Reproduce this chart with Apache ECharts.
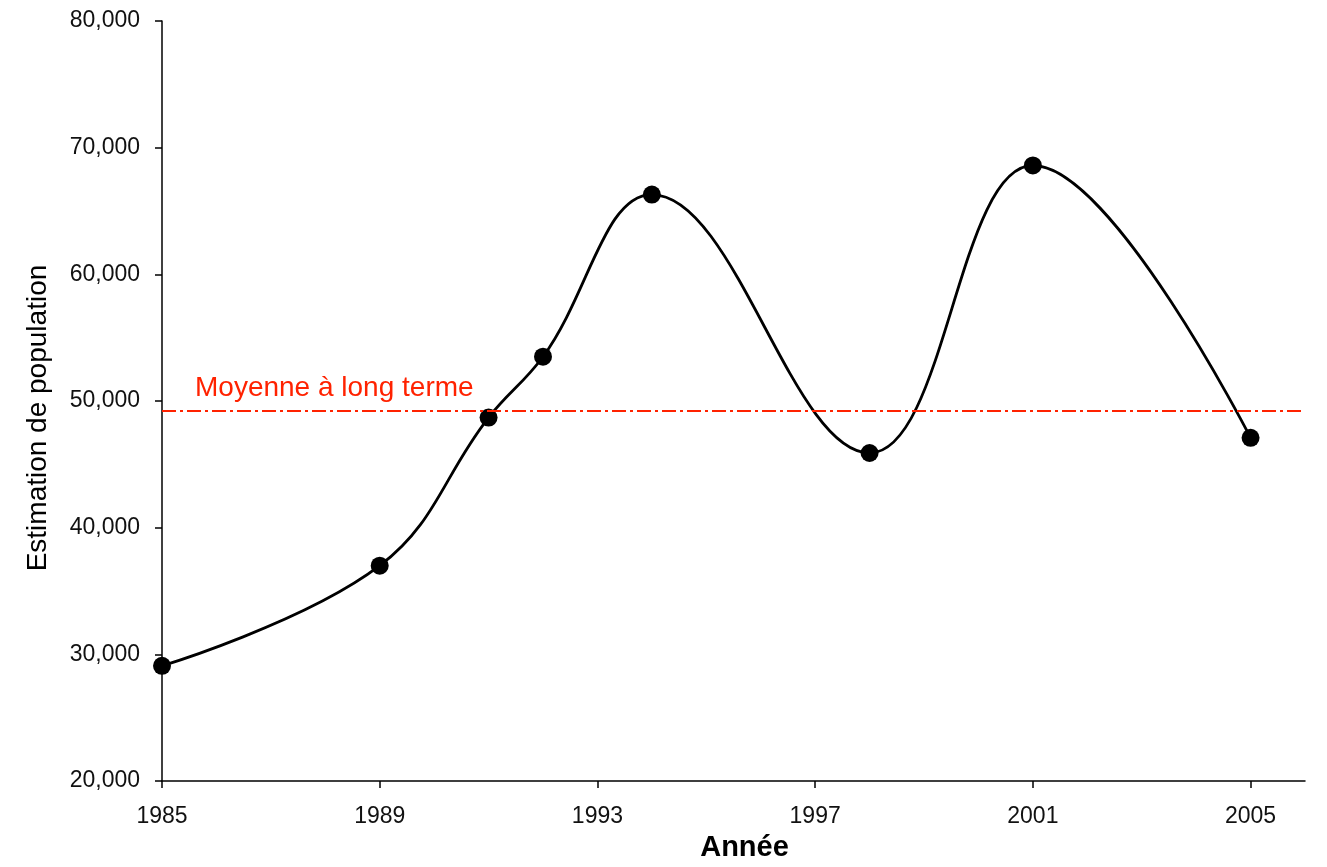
<!DOCTYPE html>
<html>
<head>
<meta charset="utf-8">
<script src="https://cdn.jsdelivr.net/npm/echarts@6/dist/echarts.min.js"></script>
<style>
html,body{margin:0;padding:0;background:#fff;}
#chart{width:1327px;height:867px;}
</style>
</head>
<body>
<div id="chart"></div>
<script>
const years = [1985, 1989, 1991, 1992, 1994, 1998, 2001, 2005];
const population = [29100, 37000, 48700, 53500, 66300, 45900, 68600, 47100];
const longTermMean = 49200;
const xTickYears = [1985, 1989, 1993, 1997, 2001, 2005];
const meanLabel = 'Moyenne à long terme';
const xName = 'Année';
const yName = 'Estimation de population';

const FONT = '"Liberation Sans", Arial, sans-serif';
const chart = echarts.init(document.getElementById('chart'), null, {renderer: 'canvas'});
chart.setOption({
  backgroundColor: '#ffffff',
  animation: false,
  grid: {left: 162, right: 22, top: 21, bottom: 82},
  xAxis: {
    type: 'value',
    min: 1985, max: 2006,
    name: xName,
    nameLocation: 'middle',
    nameGap: 50,
    nameTextStyle: {fontFamily: FONT, fontSize: 29, fontWeight: 'bold', color: '#000', padding: [0, 0, 0, 22]},
    splitLine: {show: false},
    axisLine: {show: true, lineStyle: {color: '#000', width: 1.5}},
    axisTick: {show: true, customValues: xTickYears, length: 7, lineStyle: {color: '#000', width: 1.5}},
    axisLabel: {customValues: xTickYears, formatter: v => String(v), fontFamily: FONT, fontSize: 23, color: '#111', margin: 24}
  },
  yAxis: {
    type: 'value',
    min: 20000, max: 80000, interval: 10000,
    name: yName,
    nameLocation: 'middle',
    nameGap: 110,
    nameRotate: 90,
    nameTextStyle: {fontFamily: FONT, fontSize: 28, color: '#000', padding: [0, 34, 0, 0]},
    splitLine: {show: false},
    axisLine: {show: true, lineStyle: {color: '#000', width: 1.5}},
    axisTick: {show: true, length: 7, lineStyle: {color: '#000', width: 1.5}},
    axisLabel: {formatter: v => v.toLocaleString('en-US'), fontFamily: FONT, fontSize: 23, color: '#111', margin: 22}
  },
  series: [{
    type: 'line',
    data: years.map((y, i) => [y, population[i]]),
    smooth: 0.4,
    symbol: 'circle',
    symbolSize: 18,
    itemStyle: {color: '#000'},
    lineStyle: {color: '#000', width: 2.8},
    z: 3,
    markLine: {
      silent: true,
      symbol: 'none',
      lineStyle: {color: '#FF2200', width: 2, type: [14, 4, 3, 4]},
      label: {
        show: true,
        position: 'insideStartTop',
        distance: [33, 9],
        formatter: meanLabel,
        fontFamily: FONT, fontSize: 28, color: '#FF2200'
      },
      data: [{yAxis: longTermMean}]
    }
  }]
});
</script>
</body>
</html>
